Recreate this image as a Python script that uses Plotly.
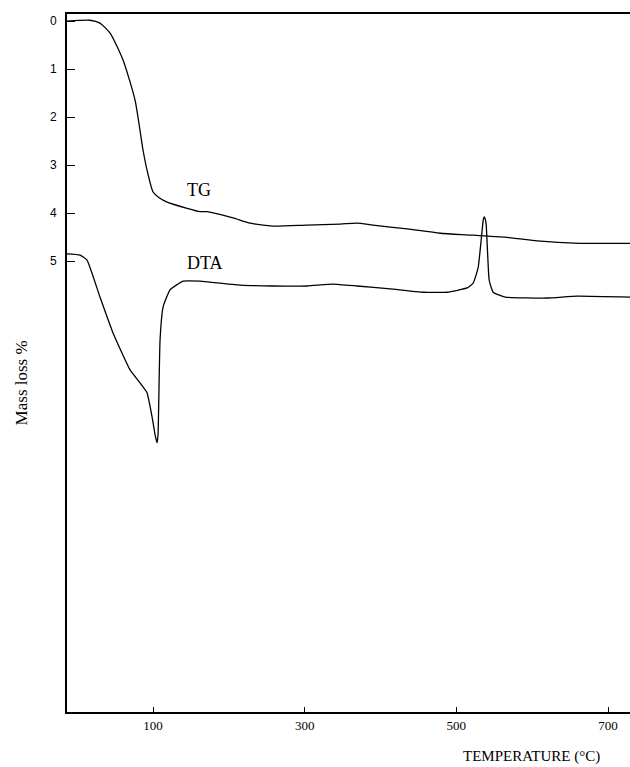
import plotly.graph_objects as go

# TG curve (temperature °C, mass loss %)
tg_temp = [-13.5, 16.9, 30, 43.3, 60.4, 76.3, 86.8, 92, 100, 108, 118.5, 144.9, 162, 171, 205.5, 228, 258, 303, 346.7, 369, 390, 435, 478.6, 522, 575, 606.6, 663, 729]
tg_loss = [0.0, -0.02, 0.04, 0.25, 0.81, 1.65, 2.69, 3.1, 3.56, 3.68, 3.77, 3.90, 3.97, 3.97, 4.10, 4.21, 4.27, 4.25, 4.23, 4.21, 4.25, 4.33, 4.42, 4.46, 4.52, 4.58, 4.63, 4.63]

# DTA curve (plotted on the same scale)
dta_temp = [-13.5, 3.7, 12.9, 30, 47.2, 69.7, 82.8, 92.1, 98.7, 103, 105.3, 106.6, 108, 109.2, 113.2, 122.4, 139.6, 162, 175.2, 214.8, 258.3, 303.2, 337.5, 369, 412.7, 456.2, 487.9, 514.2, 522.2, 528.8, 532.7, 535.4, 536.7, 538, 539.3, 541.3, 543.3, 548.5, 564.4, 619.8, 659.4, 729]
dta_val = [4.85, 4.875, 4.98, 5.75, 6.5, 7.27, 7.54, 7.75, 8.25, 8.65, 8.79, 8.6, 7.5, 6.65, 5.96, 5.60, 5.42, 5.42, 5.44, 5.50, 5.52, 5.52, 5.48, 5.52, 5.58, 5.65, 5.65, 5.56, 5.46, 5.13, 4.56, 4.15, 4.08, 4.12, 4.23, 4.875, 5.4, 5.65, 5.75, 5.77, 5.73, 5.75]

x_ticks = [100, 300, 500, 700]
y_ticks = [0, 1, 2, 3, 4, 5]

fig = go.Figure()
fig.add_trace(go.Scatter(x=tg_temp, y=tg_loss, mode="lines",
                         line=dict(color="black", width=1.3, shape="spline", smoothing=0.6),
                         name="TG", showlegend=False, hoverinfo="skip"))
fig.add_trace(go.Scatter(x=dta_temp, y=dta_val, mode="lines",
                         line=dict(color="black", width=1.3, shape="spline", smoothing=0.4),
                         name="DTA", showlegend=False, hoverinfo="skip"))

fig.add_annotation(x=161, y=3.52, text="TG", showarrow=False, xanchor="center", yanchor="middle",
                   font=dict(family="Liberation Serif", size=18, color="black"))
fig.add_annotation(x=168, y=5.04, text="DTA", showarrow=False, xanchor="center", yanchor="middle",
                   font=dict(family="Liberation Serif", size=18, color="black"))
fig.add_annotation(x=1.0, y=0, xref="paper", yref="paper", yshift=-44, xshift=-28, text="TEMPERATURE (°C)",
                   showarrow=False, xanchor="right", yanchor="middle",
                   font=dict(family="Liberation Serif", size=15, color="black"))
fig.add_annotation(x=0, y=7.55, xref="paper", yref="y", xshift=-46, text="Mass loss %",
                   showarrow=False, textangle=-90, xanchor="center", yanchor="middle",
                   font=dict(family="Liberation Serif", size=17, color="black"))

fig.update_layout(
    width=630, height=767,
    margin=dict(l=67, r=0, t=14, b=55),
    paper_bgcolor="white", plot_bgcolor="white",
    showlegend=False,
)
fig.update_xaxes(range=[-13.5, 729], tickvals=x_ticks, ticks="inside", ticklen=5, tickcolor="black",
                 showline=True, linecolor="black", linewidth=2, mirror=True, showgrid=False, zeroline=False,
                 tickfont=dict(family="Liberation Serif", size=13, color="black"))
fig.update_yaxes(range=[14.4, -0.15], tickvals=y_ticks, ticks="inside", ticklen=8, tickcolor="black",
                 showline=True, linecolor="black", linewidth=2, showgrid=False, zeroline=False,
                 ticklabelstandoff=6,
                 tickfont=dict(family="Liberation Sans", size=12, color="black"))

fig.write_html("out.html", config={"displayModeBar": False},
               post_script="document.body.style.margin='0';document.body.style.overflow='hidden';")
